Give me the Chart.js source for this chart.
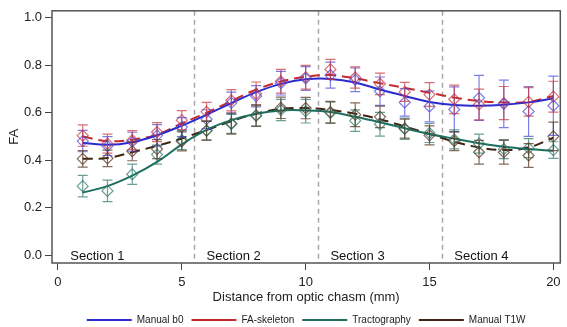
<!DOCTYPE html>
<html>
<head>
<meta charset="utf-8">
<script src="https://cdn.jsdelivr.net/npm/chart.js@4.4.1/dist/chart.umd.min.js"></script>
<style>
html, body { margin: 0; padding: 0; background: #fff; }
</style>
</head>
<body>
<canvas id="fa" width="567" height="327"></canvas>
<script>
// distance (mm) of each sample
const dist = [1, 2, 3, 4, 5, 6, 7, 8, 9, 10, 11, 12, 13, 14, 15, 16, 17, 18, 19, 20];

// measured FA (diamonds) and error (half bar)
const b0Pts   = [0.481, 0.460, 0.478, 0.505, 0.540, 0.573, 0.642, 0.670, 0.725, 0.745, 0.759, 0.739, 0.691, 0.644, 0.627, 0.614, 0.663, 0.638, 0.606, 0.630];
const b0Err   = [0.045, 0.040, 0.040, 0.045, 0.040, 0.040, 0.045, 0.045, 0.050, 0.050, 0.055, 0.050, 0.060, 0.058, 0.065, 0.095, 0.095, 0.100, 0.105, 0.125];
const skelPts = [0.504, 0.470, 0.485, 0.519, 0.569, 0.604, 0.653, 0.680, 0.733, 0.750, 0.783, 0.749, 0.722, 0.688, 0.677, 0.657, 0.635, 0.641, 0.646, 0.668];
const skelErr = [0.045, 0.040, 0.040, 0.040, 0.040, 0.040, 0.045, 0.050, 0.050, 0.050, 0.042, 0.045, 0.045, 0.040, 0.050, 0.060, 0.065, 0.070, 0.060, 0.065];
const tractPts = [0.291, 0.271, 0.341, 0.424, 0.485, 0.525, 0.553, 0.588, 0.612, 0.607, 0.600, 0.567, 0.552, 0.533, 0.515, 0.488, 0.470, 0.447, 0.451, 0.443];
const tractErr = [0.045, 0.045, 0.043, 0.040, 0.040, 0.040, 0.040, 0.045, 0.045, 0.050, 0.045, 0.045, 0.050, 0.045, 0.040, 0.040, 0.040, 0.040, 0.040, 0.035];
const t1wPts  = [0.406, 0.408, 0.438, 0.447, 0.480, 0.525, 0.555, 0.589, 0.621, 0.620, 0.603, 0.592, 0.583, 0.533, 0.505, 0.481, 0.434, 0.434, 0.420, 0.501];
const t1wErr  = [0.035, 0.035, 0.040, 0.040, 0.040, 0.040, 0.045, 0.045, 0.045, 0.045, 0.045, 0.050, 0.045, 0.040, 0.040, 0.040, 0.050, 0.050, 0.050, 0.060];

// smoothed fits (lines)
const b0Fit    = [0.474, 0.465, 0.476, 0.505, 0.546, 0.592, 0.641, 0.687, 0.722, 0.741, 0.743, 0.728, 0.698, 0.671, 0.646, 0.633, 0.630, 0.634, 0.644, 0.661];
const skelFit  = [0.500, 0.481, 0.487, 0.508, 0.556, 0.600, 0.650, 0.698, 0.732, 0.752, 0.759, 0.745, 0.725, 0.705, 0.685, 0.664, 0.650, 0.644, 0.646, 0.671];
const tractFit = [0.264, 0.291, 0.335, 0.393, 0.467, 0.528, 0.569, 0.596, 0.610, 0.610, 0.603, 0.583, 0.560, 0.535, 0.511, 0.491, 0.472, 0.457, 0.447, 0.440];
const t1wFit   = [0.406, 0.410, 0.434, 0.461, 0.492, 0.528, 0.565, 0.596, 0.617, 0.620, 0.612, 0.596, 0.573, 0.542, 0.511, 0.478, 0.454, 0.443, 0.454, 0.495];

const xTicks = [0, 5, 10, 15, 20];
const yTicks = [0, 0.2, 0.4, 0.6, 0.8, 1.0];
const sectionBounds = [5.5, 10.5, 15.5];
const sectionNames = ['Section 1', 'Section 2', 'Section 3', 'Section 4'];
const sectionStart = [0.5, 6.0, 11.0, 16.0];

const BLUE = '#2b2bd0', RED = '#c42a2e', GREEN = '#1d6e5e', BROWN = '#3f2412';
const BLUE_L = 'rgba(70,70,220,0.7)', RED_L = 'rgba(200,50,55,0.7)', GREEN_L = 'rgba(40,120,105,0.7)', BROWN_L = 'rgba(90,55,35,0.75)';

Chart.defaults.font.family = '"Liberation Sans", Arial, sans-serif';
Chart.defaults.color = '#222';

const xy = ys => dist.map((x, i) => ({ x: x, y: ys[i] }));

function fitSet(label, ys, col, dash) {
  return { label: label, data: xy(ys), borderColor: col, backgroundColor: col, borderWidth: 2,
    borderDash: dash, pointRadius: 0, tension: 0.4, fill: false, order: 1 };
}
function ptSet(label, ys, err, col) {
  return { label: label, data: xy(ys), err: err, showLine: false, pointStyle: 'rectRot',
    pointRadius: 5.5, pointBorderWidth: 1.2, pointBorderColor: col, pointBackgroundColor: 'rgba(0,0,0,0)',
    borderColor: col, order: 0 };
}

// legend strip is a bit shorter than Chart.js makes it
const legendHeight = {
  id: 'legendHeight',
  beforeUpdate(chart) {
    const lg = chart.legend;
    if (lg && !lg._short) {
      const fit = lg.fit.bind(lg);
      lg.fit = function () { fit(); this.height = 20; };
      lg._short = true;
    }
  }
};

// dashed section lines, section names, error bars, box
const decor = {
  id: 'decor',
  beforeDatasetsDraw(chart) {
    const { ctx, chartArea: a, scales: { x, y } } = chart;
    ctx.save();
    ctx.strokeStyle = '#a8a8a8';
    ctx.lineWidth = 1.5;
    ctx.setLineDash([5, 4]);
    sectionBounds.forEach(v => {
      const px = Math.round(x.getPixelForValue(v)) + 0.5;
      ctx.beginPath(); ctx.moveTo(px, a.top); ctx.lineTo(px, a.bottom); ctx.stroke();
    });
    ctx.setLineDash([]);
    ctx.fillStyle = '#111';
    ctx.font = '13px "Liberation Sans", Arial, sans-serif';
    ctx.textBaseline = 'middle';
    sectionNames.forEach((s, i) => ctx.fillText(s, x.getPixelForValue(sectionStart[i]), y.getPixelForValue(0) + 1));
    ctx.restore();
  },
  afterDatasetsDraw(chart) {
    const { ctx, chartArea: a, scales: { x, y } } = chart;
    ctx.save();
    chart.data.datasets.forEach(ds => {
      if (!ds.err) return;
      ctx.strokeStyle = ds.borderColor;
      ctx.lineWidth = 1.2;
      ds.data.forEach((p, i) => {
        const px = x.getPixelForValue(p.x);
        const t = y.getPixelForValue(p.y + ds.err[i]);
        const b = y.getPixelForValue(p.y - ds.err[i]);
        ctx.beginPath();
        ctx.moveTo(px, t); ctx.lineTo(px, b);
        ctx.moveTo(px - 5, t); ctx.lineTo(px + 5, t);
        ctx.moveTo(px - 5, b); ctx.lineTo(px + 5, b);
        ctx.stroke();
      });
    });
    ctx.strokeStyle = '#555';
    ctx.lineWidth = 1.5;
    ctx.strokeRect(a.left, a.top, a.right - a.left, a.bottom - a.top);
    ctx.restore();
  }
};

new Chart(document.getElementById('fa'), {
  type: 'line',
  data: {
    datasets: [
      fitSet('Manual b0', b0Fit, BLUE, []),
      fitSet('FA-skeleton', skelFit, RED, [10, 6]),
      fitSet('Tractography', tractFit, GREEN, []),
      fitSet('Manual T1W', t1wFit, BROWN, [10, 6]),
      ptSet('b0 pts', b0Pts, b0Err, BLUE_L),
      ptSet('skel pts', skelPts, skelErr, RED_L),
      ptSet('tract pts', tractPts, tractErr, GREEN_L),
      ptSet('t1w pts', t1wPts, t1wErr, BROWN_L)
    ]
  },
  options: {
    responsive: false,
    animation: false,
    devicePixelRatio: 1,
    layout: { padding: { top: 2, right: 2, left: 0, bottom: 0 } },
    plugins: {
      legend: {
        position: 'bottom',
        fullSize: false,
        labels: {
          filter: item => item.datasetIndex < 4,
          usePointStyle: true,
          pointStyle: 'line',
          pointStyleWidth: 45,
          padding: 8,
          font: { size: 10 },
          color: '#222'
        }
      },
      tooltip: { enabled: false }
    },
    scales: {
      x: {
        type: 'linear',
        min: -0.24, max: 20.28,
        afterBuildTicks: s => { s.ticks = xTicks.map(v => ({ value: v })); },
        afterFit: s => { s.height = 44; },
        ticks: { font: { size: 13, lineHeight: 1 }, padding: 6, color: '#222', callback: v => v },
        grid: { display: true, drawOnChartArea: false, tickLength: 7, color: '#444' },
        border: { display: false },
        title: { display: true, text: 'Distance from optic chasm (mm)', font: { size: 13 }, color: '#222', padding: { top: 0, bottom: 2 } }
      },
      y: {
        min: -0.033, max: 1.03,
        afterBuildTicks: s => { s.ticks = yTicks.map(v => ({ value: v })); },
        afterFit: s => { s.width = 52; },
        ticks: { font: { size: 13 }, padding: 3, color: '#222', callback: v => v.toFixed(1) },
        grid: { display: true, drawOnChartArea: false, tickLength: 7, color: '#444' },
        border: { display: false },
        title: { display: true, text: 'FA', font: { size: 13 }, color: '#222', padding: { top: 7, bottom: 4 } }
      }
    }
  },
  plugins: [legendHeight, decor]
});
</script>
</body>
</html>
